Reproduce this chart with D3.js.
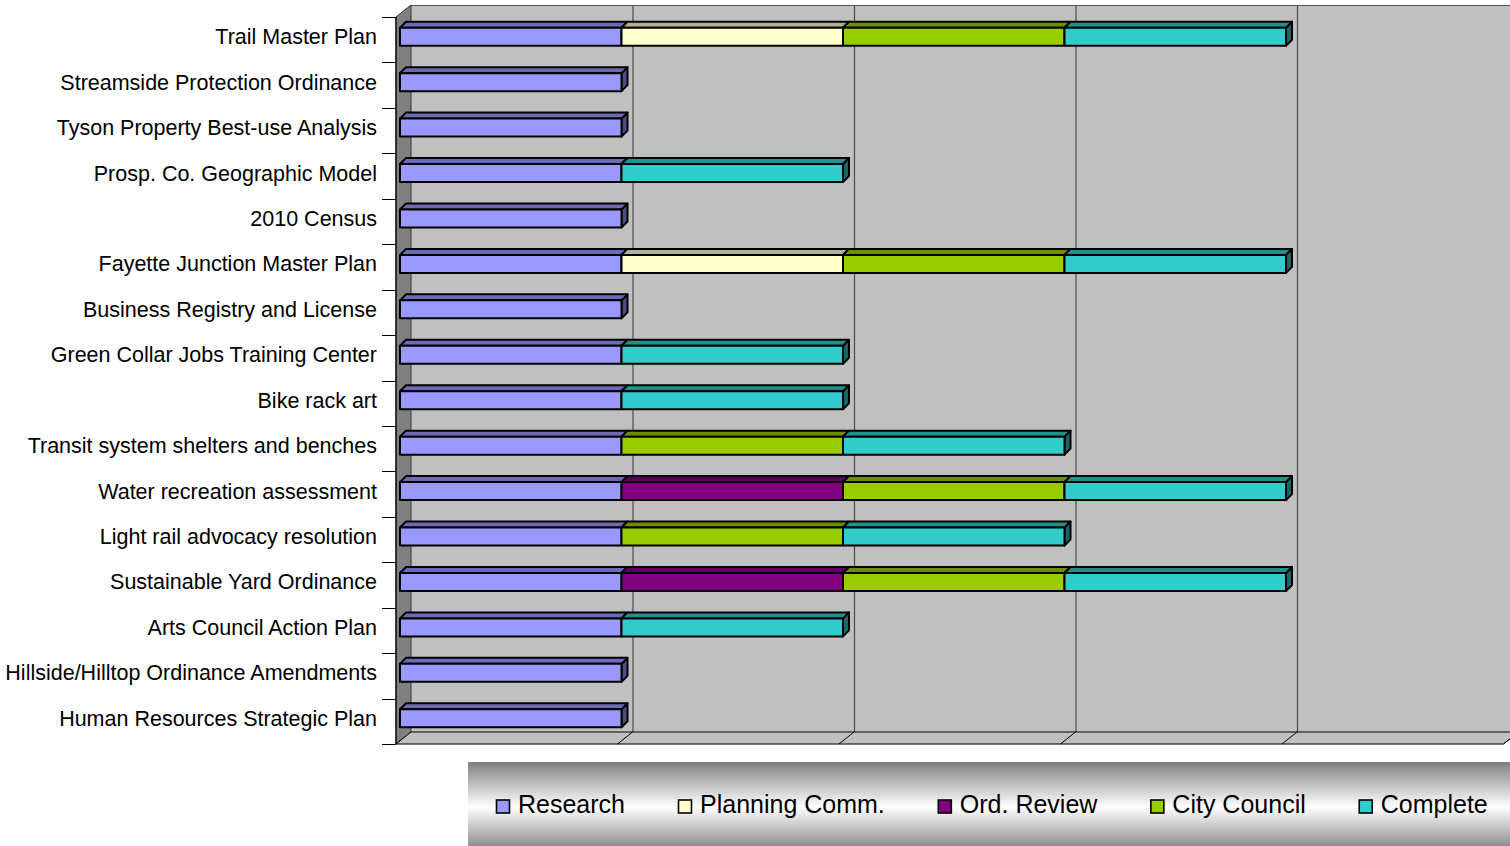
<!DOCTYPE html>
<html>
<head>
<meta charset="utf-8">
<script src="https://cdn.jsdelivr.net/npm/d3@7"></script>
<style>
  body { margin: 0; background: #fff; }
  svg { display: block; font-family: "Liberation Sans", Arial, sans-serif; }
</style>
</head>
<body>
<div id="chart"></div>
<script>
const categories = [
  'Trail Master Plan',
  'Streamside Protection Ordinance',
  'Tyson Property Best-use Analysis',
  'Prosp. Co. Geographic Model',
  '2010 Census',
  'Fayette Junction Master Plan',
  'Business Registry and License',
  'Green Collar Jobs Training Center',
  'Bike rack art',
  'Transit system shelters and benches',
  'Water recreation assessment',
  'Light rail advocacy resolution',
  'Sustainable Yard Ordinance',
  'Arts Council Action Plan',
  'Hillside/Hilltop Ordinance Amendments',
  'Human Resources Strategic Plan'
];

const seriesNames = ['Research', 'Planning Comm.', 'Ord. Review', 'City Council', 'Complete'];
const seriesColors = ['#9999FF', '#FFFFCC', '#800080', '#99CC00', '#33CCCC'];

const research    = [1, 1, 1, 1, 1, 1, 1, 1, 1, 1, 1, 1, 1, 1, 1, 1];
const planning    = [1, 0, 0, 0, 0, 1, 0, 0, 0, 0, 0, 0, 0, 0, 0, 0];
const ordReview   = [0, 0, 0, 0, 0, 0, 0, 0, 0, 0, 1, 0, 1, 0, 0, 0];
const cityCouncil = [1, 0, 0, 0, 0, 1, 0, 0, 0, 1, 1, 1, 1, 0, 0, 0];
const complete    = [1, 0, 0, 1, 0, 1, 0, 1, 1, 1, 1, 1, 1, 1, 0, 0];

const xTicks = [0, 1, 2, 3, 4, 5];

const seriesValues = [research, planning, ordReview, cityCouncil, complete];
const table = categories.map((c, i) => {
  const row = { name: c };
  seriesNames.forEach((s, j) => { row[s] = seriesValues[j][i]; });
  return row;
});

const W = 1510, H = 846;
const svg = d3.select('#chart').append('svg')
  .attr('width', W)
  .attr('height', H);

// 3d layout: back wall, front plane, depth
const depthX = 15, depthY = 12;
const wallTop = 5, wallBottom = 732;
const x = d3.scaleLinear().domain([0, 5]).range([411, 411 + 5 * 221.5]);
const y = d3.scaleBand().domain(categories).range([wallTop + depthY, wallBottom + depthY]);

const defs = svg.append('defs');
const grad = defs.append('linearGradient')
  .attr('id', 'legendGrad')
  .attr('x1', 0).attr('y1', 0).attr('x2', 0).attr('y2', 1);
grad.append('stop').attr('offset', '0%').attr('stop-color', '#7f7f7f');
grad.append('stop').attr('offset', '50%').attr('stop-color', '#ffffff');
grad.append('stop').attr('offset', '100%').attr('stop-color', '#7f7f7f');

// back wall
svg.append('rect')
  .attr('x', x(0)).attr('y', wallTop)
  .attr('width', x(5) - x(0)).attr('height', wallBottom - wallTop)
  .attr('fill', '#C0C0C0');

// gridlines on back wall
svg.append('g').selectAll('line')
  .data(xTicks.slice(1))
  .join('line')
  .attr('x1', d => x(d) + 0.5).attr('x2', d => x(d) + 0.5)
  .attr('y1', wallTop).attr('y2', wallBottom)
  .attr('stroke', '#4a4a4a').attr('stroke-width', 1.2);

svg.append('line')
  .attr('x1', x(0)).attr('x2', x(5))
  .attr('y1', wallTop + 0.5).attr('y2', wallTop + 0.5)
  .attr('stroke', '#555').attr('stroke-width', 1.2);

// left side wall
const fx0 = x(0) - depthX;
svg.append('path')
  .attr('d', `M${fx0},${wallTop + depthY} L${x(0)},${wallTop} L${x(0)},${wallBottom} L${fx0},${wallBottom + depthY} Z`)
  .attr('fill', '#808080')
  .attr('stroke', '#333').attr('stroke-width', 1);

// floor
svg.append('path')
  .attr('d', `M${fx0},${wallBottom + depthY} L${x(0)},${wallBottom} L${x(5)},${wallBottom} L${x(5) - depthX},${wallBottom + depthY} Z`)
  .attr('fill', '#C0C0C0')
  .attr('stroke', '#000').attr('stroke-width', 1);

svg.append('g').selectAll('line')
  .data(xTicks.slice(1))
  .join('line')
  .attr('x1', d => x(d)).attr('y1', wallBottom)
  .attr('x2', d => x(d) - depthX).attr('y2', wallBottom + depthY)
  .attr('stroke', '#000').attr('stroke-width', 1);

// category axis (front plane)
const axisX = fx0;
svg.append('line')
  .attr('x1', axisX).attr('x2', axisX)
  .attr('y1', wallTop + depthY).attr('y2', wallBottom + depthY)
  .attr('stroke', '#000').attr('stroke-width', 1.2);

const tickYs = categories.map(c => y(c)).concat([wallBottom + depthY]);
svg.append('g').selectAll('line')
  .data(tickYs)
  .join('line')
  .attr('x1', axisX - 14).attr('x2', axisX)
  .attr('y1', d => Math.round(d) + 0.5).attr('y2', d => Math.round(d) + 0.5)
  .attr('stroke', '#000').attr('stroke-width', 1);

const barCenter = c => y(c) + y.bandwidth() / 2 - 3;

svg.append('g').selectAll('text')
  .data(categories)
  .join('text')
  .attr('x', 377)
  .attr('y', c => barCenter(c) + 7.5)
  .attr('text-anchor', 'end')
  .attr('font-size', 21.5)
  .attr('fill', '#000')
  .text(c => c);

// stacked 3d bars
const stack = d3.stack().keys(seriesNames)(table);
const bx = v => x(v) - 11;
const bh = 18, bdx = 6, bdy = -6;
const shade = (c, k) => {
  const r = d3.rgb(c);
  return d3.rgb(r.r * k, r.g * k, r.b * k).formatHex();
};

const lastKey = categories.map((c, i) => {
  let last = -1;
  seriesValues.forEach((vals, j) => { if (vals[i] > 0) last = j; });
  return last;
});

const barsG = svg.append('g');
categories.forEach((c, i) => {
  const yc = barCenter(c);
  const y0 = yc - bh / 2, y1 = yc + bh / 2;
  stack.forEach((layer, j) => {
    const d = layer[i];
    if (d[1] - d[0] <= 0) return;
    const xa = bx(d[0]), xb = bx(d[1]);
    const col = seriesColors[j];
    const g = barsG.append('g')
      .attr('stroke', '#000').attr('stroke-width', 2).attr('stroke-linejoin', 'round');
    if (lastKey[i] === j) {
      g.append('path')
        .attr('d', `M${xb},${y0} L${xb + bdx},${y0 + bdy} L${xb + bdx},${y1 + bdy} L${xb},${y1} Z`)
        .attr('fill', shade(col, 0.5));
    }
    g.append('path')
      .attr('d', `M${xa},${y0} L${xa + bdx},${y0 + bdy} L${xb + bdx},${y0 + bdy} L${xb},${y0} Z`)
      .attr('fill', shade(col, 0.7));
    g.append('rect')
      .attr('x', xa).attr('y', y0)
      .attr('width', xb - xa).attr('height', bh)
      .attr('fill', col);
  });
});

// legend
const legTop = 762;
svg.append('rect')
  .attr('x', 468).attr('y', legTop)
  .attr('width', W - 468 + 10).attr('height', 90)
  .attr('fill', 'url(#legendGrad)');

let lx = 496;
seriesNames.forEach((s, j) => {
  svg.append('rect')
    .attr('x', lx + 0.5).attr('y', 800)
    .attr('width', 13).attr('height', 13)
    .attr('fill', seriesColors[j])
    .attr('stroke', '#000').attr('stroke-width', 1.6);
  const t = svg.append('text')
    .attr('x', lx + 22).attr('y', 813)
    .attr('font-size', 25)
    .attr('fill', '#000')
    .text(s);
  lx += 22 + t.node().getComputedTextLength() + 53;
});
</script>
</body>
</html>
